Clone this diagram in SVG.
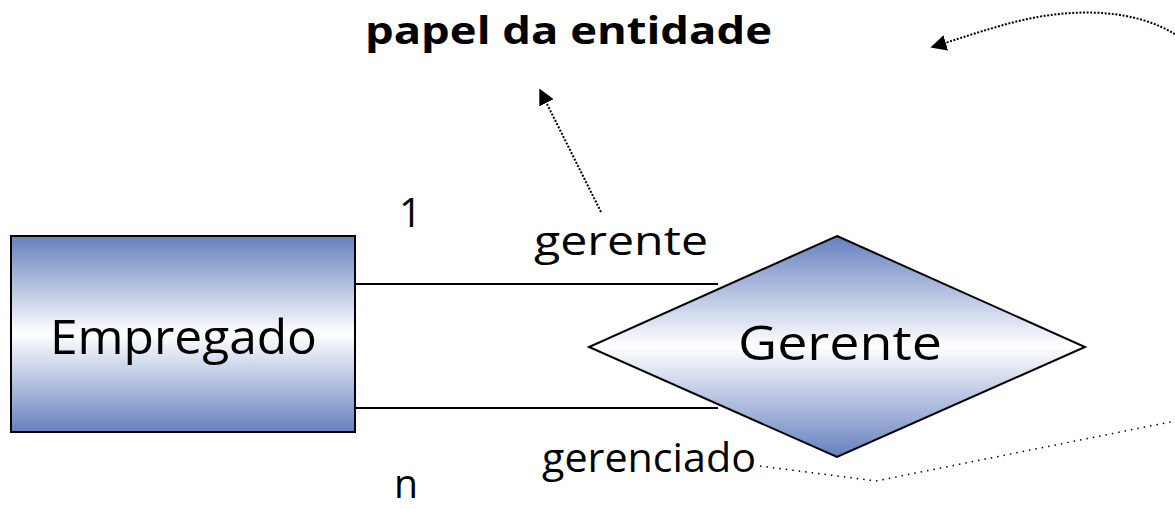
<svg xmlns="http://www.w3.org/2000/svg" width="1175" height="509" viewBox="0 0 1175 509">
<defs>
<linearGradient id="g" x1="0" y1="0" x2="0" y2="1">
<stop offset="0" stop-color="#6680bf"/>
<stop offset="0.5" stop-color="#ffffff"/>
<stop offset="1" stop-color="#6680bf"/>
</linearGradient>
<marker id="ah2" viewBox="0 0 10 10" refX="9" refY="5" markerWidth="16" markerHeight="16" markerUnits="userSpaceOnUse" orient="auto">
<path d="M0,0 L10,5 L0,10 z" fill="#000"/>
</marker>
</defs>
<style>
text{font-family:"Open Sans","DejaVu Sans",sans-serif;fill:#000}
.lbl{font-size:40px}
.big{font-size:48px}
.shape{fill:url(#g);stroke:#000;stroke-width:2}
.line{stroke:#000;stroke-width:2;fill:none}
.dot{stroke:#000;stroke-width:2;fill:none;stroke-dasharray:2 1.6}
.dot2{stroke:#000;stroke-width:1.5;fill:none;stroke-dasharray:1.5 5}
</style>
<g id="connectors">
<line class="line" x1="355" y1="284" x2="718" y2="284"/>
<line class="line" x1="355" y1="408" x2="718" y2="408"/>
<path class="dot" d="M601,212 L540,90" marker-end="url(#ah2)"/>
<path class="dot2" d="M760,466 L876,481 L1180,420"/>
<path class="dot" d="M1178,36 C1130,5 1060,8 1000,26 C975,33 955,40 932,47" marker-end="url(#ah2)"/>
</g>
<g id="empregado">
<rect class="shape" x="11" y="236" width="344" height="196"/>
<text class="big" x="50" y="354" textLength="267" lengthAdjust="spacingAndGlyphs">Empregado</text>
</g>
<g id="gerente">
<polygon class="shape" points="837,236 1085,347 837,457 589,347"/>
<text class="big" x="738" y="360" textLength="204" lengthAdjust="spacingAndGlyphs">Gerente</text>
</g>
<g id="labels">
<text x="365" y="44" font-size="37" font-weight="bold" textLength="407" lengthAdjust="spacingAndGlyphs">papel da entidade</text>
<text class="lbl" x="399" y="227" font-size="44">1</text>
<text class="lbl" x="534" y="255" textLength="174" lengthAdjust="spacingAndGlyphs">gerente</text>
<text class="lbl" x="542" y="472" textLength="214" lengthAdjust="spacingAndGlyphs">gerenciado</text>
<text class="lbl" x="394" y="498" textLength="24" lengthAdjust="spacingAndGlyphs">n</text>
</g>
</svg>
